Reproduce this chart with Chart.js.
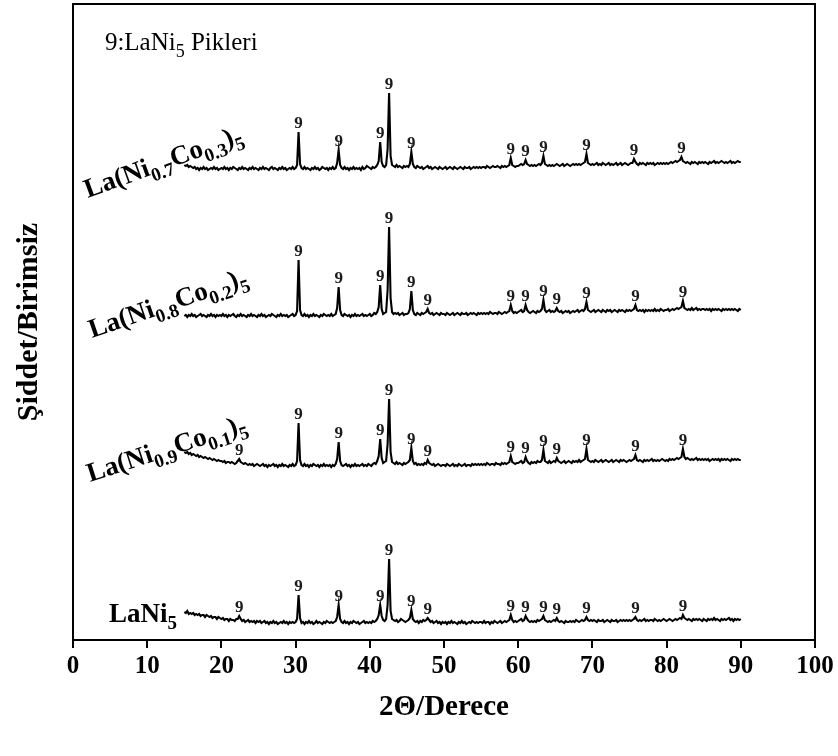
<!DOCTYPE html>
<html>
<head>
<meta charset="utf-8">
<script src="https://cdn.jsdelivr.net/npm/chart.js@4.4.1/dist/chart.umd.min.js"></script>
<style>
  html, body { margin: 0; padding: 0; background: #fff; }
  canvas { display: block; }
</style>
</head>
<body>
<canvas id="xrd" width="838" height="756"></canvas>
<script>
// XRD scans, 2θ from 15° to 90° in 0.2° steps (25 points per 5° row), intensity in a.u.
const SCAN_START = 15;
const SCAN_STEP = 0.2;

const xTicks = [0, 10, 20, 30, 40, 50, 60, 70, 80, 90, 100];

// LaNi5
const lani5 = [
  11,10,12,9,10, 9,10,8,9,8, 9,7,8,8,6, 8,7,6,7,5, 6,6,4,6,5,          // 15
  4,5,3,4,4, 2,4,3,3,2, 4,4,7,4,2, 3,1,2,3,1, 2,1,2,0,2,              // 20
  1,2,0,1,2, 0,1,-1,1,0, 2,0,1,-1,0, 1,0,2,0,1, -1,1,0,1,0,           // 25
  1,4,28,5,0, 1,-1,1,0,2, 0,1,-1,0,2, 0,1,0,-1,1, 0,2,1,0,1,          // 30
  0,1,2,6,18, 4,1,0,2,0, 1,-1,1,0,2, 1,0,1,-1,0, 1,2,0,1,0,           // 35
  1,0,2,1,2, 4,8,18,7,3, 2,4,18,64,12, 4,3,2,3,1, 2,4,3,2,1,          // 40
  2,3,5,13,4, 2,1,2,0,2, 1,3,2,3,5, 3,1,2,0,1, 2,0,1,-1,1,            // 45
  0,1,-1,1,0, 2,0,1,0,-1, 1,0,2,0,1, -1,0,1,0,2, 1,0,1,0,1,           // 50
  1,0,2,0,1, 1,-1,1,0,2, 1,0,1,2,0, 1,2,1,2,3, 8,3,1,2,1,             // 55
  2,3,4,2,3, 7,4,2,1,2, 1,2,1,3,2, 3,4,7,3,2, 1,2,1,2,3,              // 60
  2,5,2,1,2, 1,0,2,1,1, 2,1,2,1,3, 2,1,2,3,2, 3,6,3,2,3,              // 65
  2,3,2,1,3, 2,2,3,1,2, 3,2,1,3,2, 2,3,1,2,3, 2,3,2,3,2,              // 70
  3,2,3,4,6, 3,2,3,2,3, 4,2,3,2,3, 3,2,4,3,2, 3,2,3,4,3,              // 75
  2,3,4,3,2, 3,4,3,4,5, 4,8,5,4,3, 4,3,2,4,3, 4,3,4,3,2,              // 80
  4,3,2,4,3, 4,3,5,3,4, 3,2,4,3,4, 3,4,5,3,4, 2,4,3,4,3,              // 85
  4                                                                   // 90
];

// La(Ni0.9Co0.1)5
const co01 = [
  14,13,14,12,13, 11,12,11,10,11, 9,10,9,8,9, 8,7,8,7,6, 7,6,5,6,5,   // 15
  5,4,5,3,4, 4,3,4,3,2, 3,5,7,4,3, 2,3,2,1,2, 1,2,0,1,2,              // 20
  1,0,1,2,0, 1,-1,1,0,1, 2,0,1,-1,1, 0,2,0,1,0, -1,1,0,2,0,           // 25
  1,5,43,6,1, 0,2,0,1,-1, 1,0,2,1,0, 1,-1,1,0,2, 0,1,0,1,-1,          // 30
  1,0,2,7,24, 5,1,0,1,2, 0,1,-1,1,0, 2,0,1,0,1, 2,0,1,0,2,            // 35
  1,0,2,3,2, 5,10,27,8,3, 4,5,22,67,14, 4,3,2,4,2, 3,2,1,3,2,         // 40
  3,4,6,18,5, 2,3,1,2,1, 2,1,3,2,6, 3,2,1,2,0, 1,2,1,0,1,             // 45
  1,0,2,1,0, 1,2,0,1,0, 2,1,0,1,2, 0,1,1,0,2, 1,2,1,2,1,              // 50
  2,1,2,1,3, 2,1,2,2,1, 3,2,2,1,3, 2,3,2,3,4, 10,4,3,2,3,             // 55
  3,4,5,3,4, 9,5,3,2,4, 3,4,3,5,4, 4,6,16,5,4, 3,5,3,4,5,             // 60
  4,8,5,4,3, 4,5,3,4,5, 4,3,5,4,5, 4,6,4,5,6, 7,17,6,5,4,             // 65
  5,4,6,5,4, 5,6,4,5,6, 5,4,5,6,4, 5,6,5,4,6, 5,6,5,4,5,              // 70
  6,5,6,7,11, 6,5,6,5,4, 6,5,6,5,6, 7,5,6,5,6, 5,6,7,6,5,             // 75
  6,5,7,6,7, 6,7,8,7,8, 9,17,9,7,8, 7,6,7,6,7, 8,6,7,6,7,             // 80
  6,7,6,7,5, 6,7,6,7,6, 7,5,7,6,7, 6,7,6,5,7, 6,7,6,7,6,              // 85
  6                                                                   // 90
];

// La(Ni0.8Co0.2)5
const co02 = [
  0,1,-1,1,0, 2,0,1,-1,0, 1,2,0,1,0, -1,1,0,2,0, 1,-1,1,0,1,          // 15
  0,2,0,1,-1, 1,0,1,2,0, -1,1,0,2,0, 1,0,-1,1,0, 2,0,1,0,-1,          // 20
  1,0,2,0,1, -1,0,1,0,2, 1,0,-1,1,0, 2,0,1,0,1, -1,0,1,2,0,           // 25
  1,5,56,6,1, 0,2,0,1,-1, 1,0,2,0,1, 0,-1,1,0,2, 1,0,1,0,2,           // 30
  0,1,2,8,29, 6,1,0,2,1, 0,1,-1,1,0, 2,0,1,0,1, 2,0,1,0,1,            // 35
  2,0,1,3,2, 4,9,31,7,2, 3,4,26,89,18, 4,2,3,2,3, 1,2,3,1,2,          // 40
  2,3,7,25,6, 2,1,3,2,1, 3,2,3,4,7, 3,2,3,1,2, 3,2,1,3,2,             // 45
  2,1,3,2,1, 2,3,1,2,3, 2,1,3,2,2, 3,1,2,3,2, 3,2,1,3,2,              // 50
  3,2,3,2,3, 2,4,3,2,3, 3,2,4,3,2, 3,4,3,4,5, 11,5,3,4,3,             // 55
  4,5,6,4,5, 11,6,4,3,4, 5,4,3,5,4, 5,7,16,6,4, 5,6,4,5,4,            // 60
  5,8,5,4,5, 3,4,5,4,5, 3,4,5,4,5, 6,4,5,6,5, 7,14,6,5,4,             // 65
  5,6,4,5,6, 5,4,6,5,4, 6,5,6,4,5, 6,5,4,6,5, 6,5,4,6,5,              // 70
  6,5,6,7,11, 6,5,6,5,6, 4,6,5,6,5, 6,5,7,5,6, 5,7,6,5,6,             // 75
  6,7,5,6,7, 6,7,8,7,8, 9,15,8,7,6, 7,6,8,6,7, 8,6,7,6,7,             // 80
  7,6,7,6,7, 5,7,6,7,6, 7,6,5,7,6, 7,6,7,6,7, 6,7,6,5,7,              // 85
  6                                                                   // 90
];

// La(Ni0.7Co0.3)5
const co03 = [
  4,3,4,2,3, 2,1,2,0,1, -1,1,0,2,0, 1,-1,0,1,0, 2,0,1,-1,0,           // 15
  1,0,2,0,1, -1,1,0,2,1, 0,-1,1,0,2, 0,1,0,-1,1, 0,2,0,1,0,           // 20
  -1,1,0,2,0, 1,0,-1,1,2, 0,1,0,-1,1, 0,2,0,1,-1, 0,1,0,2,0,          // 25
  1,4,37,5,1, 0,2,0,1,0, -1,1,0,2,0, 1,-1,0,2,1, 0,1,-1,1,0,          // 30
  2,0,1,6,19, 4,1,0,2,0, 1,-1,1,0,2, 0,1,0,1,-1, 2,0,1,3,2,           // 35
  1,0,2,1,2, 4,8,27,7,3, 2,4,20,76,13, 4,3,2,4,2, 3,2,1,3,2,          // 40
  3,2,5,17,5, 2,1,3,2,1, 2,0,1,2,3, 1,2,0,1,2, 1,0,2,1,0,             // 45
  1,2,0,1,2, 1,0,2,1,0, 1,2,1,0,2, 1,1,2,0,1, 2,1,2,1,2,              // 50
  1,2,2,1,3, 2,1,2,3,2, 2,3,2,1,3, 2,3,2,3,4, 11,4,3,2,3,             // 55
  3,4,5,4,5, 9,5,4,3,4, 3,4,3,4,5, 4,6,13,5,4, 3,4,3,4,3,             // 60
  4,5,4,3,4, 5,3,4,5,4, 3,4,5,4,5, 4,5,4,5,6, 7,15,6,5,4,             // 65
  5,4,5,6,4, 5,4,6,5,4, 5,6,4,5,4, 5,6,4,5,6, 4,5,6,5,4,              // 70
  5,6,6,10,7, 5,4,6,5,6, 5,4,6,5,6, 5,6,4,5,6, 5,6,5,6,5,             // 75
  6,5,6,7,6, 7,8,7,8,9, 12,8,7,6,7, 6,5,7,6,7, 6,5,7,6,7,             // 80
  6,7,6,5,7, 6,7,8,6,7, 6,7,8,7,6, 7,6,7,8,6, 7,6,7,8,7,              // 85
  7                                                                   // 90
];

// LaNi5 reflections marked "9" on each scan (2θ, degrees)
const marksLaNi5 = [22.4, 30.4, 35.8, 41.4, 42.6, 45.6, 47.8, 59.0, 61.0, 63.4, 65.2, 69.2, 75.8, 82.2];
const marksCo01  = [22.4, 30.4, 35.8, 41.4, 42.6, 45.6, 47.8, 59.0, 61.0, 63.4, 65.2, 69.2, 75.8, 82.2];
const marksCo02  = [30.4, 35.8, 41.4, 42.6, 45.6, 47.8, 59.0, 61.0, 63.4, 65.2, 69.2, 75.8, 82.2];
const marksCo03  = [30.4, 35.8, 41.4, 42.6, 45.6, 59.0, 61.0, 63.4, 69.2, 75.6, 82.0];

// Sample names as [text, isSubscript] runs
const nameLaNi5 = [['LaNi', 0], ['5', 1]];
const nameCo01 = [['La(Ni', 0], ['0.9', 1], ['Co', 0], ['0.1', 1], [')', 0], ['5', 1]];
const nameCo02 = [['La(Ni', 0], ['0.8', 1], ['Co', 0], ['0.2', 1], [')', 0], ['5', 1]];
const nameCo03 = [['La(Ni', 0], ['0.7', 1], ['Co', 0], ['0.3', 1], [')', 0], ['5', 1]];
const keyText = [['9:LaNi', 0], ['5', 1], [' Pikleri', 0]];

const xTitle = '2\u0398/Derece';
const yTitle = '\u015Eiddet/Birimsiz';

// ---- layout and drawing ----
const SERIF = '"Liberation Serif", "Times New Roman", serif';
const Y_MAX = 636;
const scans = [
  { values: lani5, marks: marksLaNi5, name: nameLaNi5, lift: 17,  at: [4.85, 18],  angle: 0 },
  { values: co01,  marks: marksCo01,  name: nameCo01,  lift: 174, at: [2.3, 158],  angle: -18 },
  { values: co02,  marks: marksCo02,  name: nameCo02,  lift: 324, at: [2.55, 302], angle: -19 },
  { values: co03,  marks: marksCo03,  name: nameCo03,  lift: 471, at: [2.0, 442],  angle: -20 }
];

function toPoints(values, lift) {
  return values.map((v, i) => ({ x: +(SCAN_START + i * SCAN_STEP).toFixed(1), y: v + lift }));
}

function drawRuns(ctx, runs, x, y, angleDeg, size, weight) {
  ctx.save();
  ctx.translate(x, y);
  ctx.rotate(angleDeg * Math.PI / 180);
  ctx.textAlign = 'left';
  ctx.textBaseline = 'alphabetic';
  ctx.fillStyle = '#000';
  let cx = 0;
  for (const [t, sub] of runs) {
    const s = sub ? Math.round(size * 0.7) : size;
    ctx.font = `${weight} ${s}px ${SERIF}`;
    ctx.fillText(t, cx, sub ? size * 0.27 : 0);
    cx += ctx.measureText(t).width;
  }
  ctx.restore();
}

const annotations = {
  id: 'annotations',
  afterDatasetsDraw(chart) {
    const { ctx, chartArea: a, scales: { x, y } } = chart;
    // closed frame around the plot
    ctx.save();
    ctx.strokeStyle = '#000';
    ctx.lineWidth = 2;
    ctx.strokeRect(a.left, a.top, a.right - a.left, a.bottom - a.top);
    ctx.restore();

    // "9" peak marks
    ctx.save();
    ctx.fillStyle = '#1b1b1b';
    ctx.font = `bold 17px ${SERIF}`;
    ctx.textAlign = 'center';
    ctx.textBaseline = 'alphabetic';
    scans.forEach(s => {
      s.marks.forEach(p => {
        const i = Math.round((p - SCAN_START) / SCAN_STEP);
        const top = Math.max(s.values[i - 1], s.values[i], s.values[i + 1]) + s.lift;
        ctx.fillText('9', x.getPixelForValue(p), y.getPixelForValue(top) - 4);
      });
    });
    ctx.restore();

    // sample names
    scans.forEach(s => {
      drawRuns(ctx, s.name, x.getPixelForValue(s.at[0]), y.getPixelForValue(s.at[1]), s.angle, 27, 'bold');
    });

    // key
    drawRuns(ctx, keyText, x.getPixelForValue(4.3), y.getPixelForValue(590), 0, 25, 'normal');
  }
};

new Chart(document.getElementById('xrd'), {
  type: 'line',
  data: {
    datasets: scans.map(s => ({
      data: toPoints(s.values, s.lift),
      borderColor: '#000',
      borderWidth: 2.1,
      pointRadius: 0,
      tension: 0,
      fill: false
    }))
  },
  options: {
    responsive: false,
    animation: false,
    events: [],
    layout: { padding: { left: 0, top: 4, right: 23, bottom: 0 } },
    scales: {
      x: {
        type: 'linear',
        min: 0,
        max: 100,
        afterBuildTicks(scale) { scale.ticks = xTicks.map(v => ({ value: v })); },
        afterFit(scale) { scale.height = 116; },
        ticks: {
          color: '#000',
          font: { family: SERIF, weight: 'bold', size: 25 },
          padding: 4,
          maxRotation: 0,
          autoSkip: false
        },
        grid: { drawOnChartArea: false, drawTicks: true, tickLength: 8, color: '#000', lineWidth: 2 },
        border: { display: true, color: '#000', width: 2 },
        title: {
          display: true,
          text: xTitle,
          color: '#000',
          font: { family: SERIF, weight: 'bold', size: 29 },
          padding: { top: 0, bottom: 31 }
        }
      },
      y: {
        type: 'linear',
        min: 0,
        max: Y_MAX,
        afterFit(scale) { scale.width = 73; },
        ticks: { display: false },
        grid: { display: false, drawTicks: false },
        border: { display: true, color: '#000', width: 2 },
        title: {
          display: true,
          text: yTitle,
          color: '#000',
          font: { family: SERIF, weight: 'bold', size: 30 },
          padding: { top: 11, bottom: 0 }
        }
      }
    },
    plugins: {
      legend: { display: false },
      tooltip: { enabled: false }
    }
  },
  plugins: [annotations]
});
</script>
</body>
</html>
